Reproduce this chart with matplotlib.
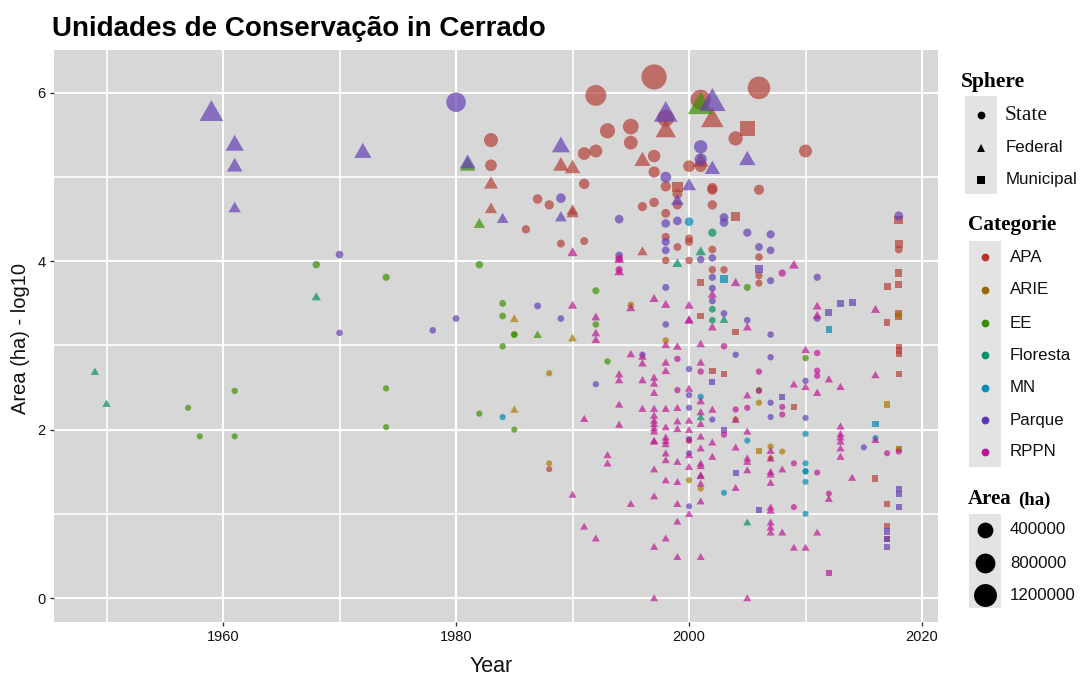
import matplotlib
matplotlib.use("Agg")
import matplotlib.pyplot as plt
from matplotlib.lines import Line2D
from matplotlib.patches import Rectangle
from matplotlib.path import Path
import numpy as np

# (year, log10 area) by category and sphere
APA_STATE = [(1992,5.97),(1997,6.19),(2001,5.92),(2006,6.06),(1993,5.55),(1995,5.60),(1995,5.41),(2004,5.46),
 (1991,5.28),(1992,5.31),(1997,5.25),(2000,5.13),(2001,5.13),(1997,5.06),(2010,5.31),(1991,4.92),(1998,4.89),
 (2002,4.87),(2002,4.85),(2006,4.85),(1999,4.80),(1986,4.38),(1987,4.74),(1988,4.67),(1996,4.65),(1997,4.70),
 (1998,4.57),(1999,4.67),(2002,4.67),(1989,4.21),(1991,4.24),(1998,4.29),(1998,4.01),(1999,4.17),(2000,4.01),
 (2000,4.27),(2000,4.23),(2002,4.14),(2002,3.90),(2003,3.90),(2006,4.05),(2006,3.83),(2006,3.74),(2018,4.14),
 (1983,5.44),(1983,5.14),(1998,5.70),(1988,1.53)]
APA_FED = [(1998,5.57),(2002,5.70),(1990,5.12),(1989,5.15),(1996,5.21),(1990,4.61),(1996,4.12),(2001,5.20),
 (1983,4.93),(1983,4.63),(1990,4.58)]
APA_MUN = [(2005,5.58),(1999,4.88),(2004,4.53),(2018,4.49),(2018,4.21),(2018,3.86),(2018,3.72),(2017,3.70),
 (2001,3.75),(2001,3.35),(2018,3.38),(2018,3.34),(2017,3.27),(2004,3.16),(2018,2.98),(2018,2.94),(2018,2.90),
 (2002,2.70),(2003,2.66),(2018,2.66),(2009,2.27),(2016,1.42),(2017,1.12),(2017,0.85),(2017,0.70)]
ARIE_STATE = [(1995,3.48),(1988,2.67),(2018,3.36),(1998,3.06),(2006,2.32),(2004,2.12),(2000,1.87),(2007,1.80),
 (2008,1.74),(1988,1.60),(2007,1.66),(2000,1.40),(2001,1.30),(2018,1.77)]
ARIE_FED = [(1985,3.32),(1990,3.09),(1985,2.24)]
ARIE_MUN = [(2006,1.75),(2017,2.30),(2018,1.77)]
EE_STATE = [(1968,3.96),(1974,3.81),(1982,3.96),(1961,2.46),(1957,2.26),(1958,1.92),(1961,1.92),(1974,2.49),
 (1974,2.03),(1982,2.19),(2005,3.69),(1992,3.65),(1984,3.50),(1984,3.35),(1992,3.25),(1985,3.13),(1984,2.99),
 (1985,3.13),(1993,2.81),(2010,2.85),(2006,2.47),(1985,2.00)]
EE_FED = [(1981,5.15),(1982,4.45),(2001,5.87),(1987,3.13)]
FLORESTA_STATE = [(2002,4.34),(2002,3.43),(2002,3.30)]
FLORESTA_FED = [(1968,3.58),(1949,2.69),(1950,2.31),(2001,4.12),(1999,3.98),(2003,3.31),(2001,2.15),(2005,0.90)]
MN_STATE = [(2000,4.47),(2001,2.39),(1984,2.15),(2010,1.95),(2016,1.90),(2005,1.87),(2010,1.60),(2010,1.51),
 (2010,1.50),(2010,1.38),(2003,1.25),(2010,1.00)]
MN_MUN = [(2003,3.79),(2012,3.19),(2016,2.07)]
PARQUE_STATE = [(1980,5.89),(1970,4.08),(1970,3.15),(1978,3.18),(1980,3.32),(2001,5.36),(2001,5.21),(1998,5.00),
 (1989,4.75),(1994,4.50),(1998,4.45),(1999,4.48),(2003,4.52),(2003,4.46),(2005,4.34),(2007,4.32),(2006,4.17),
 (2007,4.13),(1998,4.23),(1998,4.13),(2001,4.02),(2002,4.04),(1994,4.07),(2002,3.81),(2002,3.68),(2007,3.77),
 (1998,3.69),(2011,3.81),(2002,3.53),(1987,3.47),(1989,3.32),(2003,3.38),(2005,3.30),(1998,3.25),(2011,3.32),
 (2007,3.13),(1996,2.89),(2004,2.89),(2007,2.86),(2000,2.72),(1992,2.54),(2010,2.58),(2000,2.41),(2007,2.32),
 (2000,2.26),(2002,2.12),(2007,2.15),(2010,2.14),(2015,1.79),(2000,1.89),(2000,1.72),(2000,1.09),(2018,4.54)]
PARQUE_FED = [(1959,5.78),(1961,5.40),(1961,5.14),(1961,4.64),(1972,5.31),(1981,5.18),(1998,5.77),(2002,5.91),
 (1989,5.38),(2005,5.22),(2002,5.11),(2000,4.91),(1999,4.73),(1989,4.53),(1984,4.51)]
PARQUE_MUN = [(2006,3.91),(2012,3.39),(2013,3.50),(2014,3.51),(2002,2.57),(2008,2.39),(2003,2.00),(2004,1.49),
 (2006,1.05),(2018,1.30),(2018,1.24),(2018,1.08),(2017,0.79),(2017,0.70),(2017,0.61)]
RPPN_STATE = [(1994,3.90),(2008,3.86),(2003,2.99),(1999,2.84),(2011,2.91),(2001,2.69),(2006,2.69),(2011,2.70),
 (2011,2.64),(1999,2.47),(2006,2.46),(2008,2.27),(2008,2.18),(2004,2.24),(2005,2.26),(2003,1.94),(2000,1.87),
 (2018,1.74),(2017,1.72),(2009,1.60),(2011,1.49),(2012,1.24),(2009,1.08),(1994,4.03)]
RPPN_FED = [(1990,4.11),(1994,4.03),(1994,3.88),(2009,3.96),(2004,3.75),(1997,3.56),(1998,3.49),(1995,3.45),
 (1990,3.48),(2000,3.48),(1992,3.34),(2000,3.31),(2011,3.47),(2011,3.36),(2016,3.43),(2002,3.61),(2002,3.22),
 (2005,3.22),(2000,3.30),(1992,3.15),(1992,3.07),(1998,3.01),(1999,2.99),(2001,3.02),(2010,2.95),(1995,2.90),
 (1996,2.87),(1996,2.79),(1998,2.80),(2001,2.80),(1998,2.70),(1994,2.66),(1994,2.59),(1996,2.59),(1997,2.62),
 (1997,2.55),(2012,2.60),(2016,2.65),(2009,2.54),(2010,2.51),(2011,2.44),(2013,2.51),(1997,2.44),(2000,2.49),
 (2005,2.41),(2001,2.34),(1994,2.30),(1996,2.25),(1997,2.25),(1997,2.17),(1998,2.25),(1999,2.26),(2002,2.24),
 (2001,2.21),(2001,2.07),(2004,2.12),(1991,2.13),(1994,2.06),(1997,2.11),(1997,2.07),(1997,2.02),(1997,1.98),
 (1998,2.03),(1999,2.10),(1999,2.01),(2000,2.11),(2000,2.00),(2001,1.92),(2005,1.98),(2013,2.04),(2013,1.95),
 (2013,1.91),(2013,1.86),(2013,1.78),(2013,1.68),(2016,1.88),(1997,1.87),(1997,1.86),(1998,1.91),(1998,1.87),
 (1998,1.83),(2001,1.78),(2002,1.85),(2004,1.79),(2007,1.75),(1998,1.72),(1998,1.64),(1993,1.70),(1993,1.60),
 (2000,1.70),(2002,1.68),(1999,1.62),(2000,1.56),(2001,1.60),(2001,1.57),(2005,1.66),(2005,1.62),(2005,1.52),
 (2007,1.66),(2007,1.50),(2007,1.47),(2008,1.53),(1997,1.53),(2001,1.46),(2001,1.45),(1998,1.40),(1999,1.38),
 (2001,1.36),(2004,1.31),(2007,1.37),(2014,1.43),(2012,1.18),(1990,1.23),(1997,1.21),(1995,1.12),(1999,1.12),
 (2000,1.00),(2001,1.15),(2007,1.08),(2007,1.04),(1991,0.85),(1992,0.71),(1999,0.91),(2007,0.90),(2007,0.84),
 (2007,0.78),(2008,0.78),(2011,0.78),(1998,0.71),(1997,0.61),(1999,0.49),(2001,0.49),(2009,0.60),(2010,0.60),
 (1997,0.00),(2005,0.00)]
RPPN_MUN = [(2012,0.30)]

CATEGORIES = ["APA", "ARIE", "EE", "Floresta", "MN", "Parque", "RPPN"]
CAT_COLORS = ["#B54038", "#AD7A00", "#3E9200", "#009065", "#0089B4", "#6541B4", "#BE1A92"]
LEGEND_COLORS = ["#B5352E", "#946A10", "#3C8C0B", "#0E8F6B", "#0E8BB5", "#5B37B0", "#BA1594"]
SPHERES = ["State", "Federal", "Municipal"]
AREA_BREAKS = [400000, 800000, 1200000]
X_TICKS = [1960, 1980, 2000, 2020]
X_MINOR = [1950, 1970, 1990, 2010]
Y_TICKS = [0, 2, 4, 6]
Y_MINOR = [1, 3, 5]

GROUPS = [(0, APA_STATE, "o"), (0, APA_FED, "^"), (0, APA_MUN, "s"),
          (1, ARIE_STATE, "o"), (1, ARIE_FED, "^"), (1, ARIE_MUN, "s"),
          (2, EE_STATE, "o"), (2, EE_FED, "^"),
          (3, FLORESTA_STATE, "o"), (3, FLORESTA_FED, "^"),
          (4, MN_STATE, "o"), (4, MN_MUN, "s"),
          (5, PARQUE_STATE, "o"), (5, PARQUE_FED, "^"), (5, PARQUE_MUN, "s"),
          (6, RPPN_STATE, "o"), (6, RPPN_FED, "^"), (6, RPPN_MUN, "s")]

W, H, DPI = 1081, 675, 100
PANEL = "#D7D7D7"
KEY = "#E3E3E3"
R_MIN, R_MAX, V_MAX = 3.0, 12.7, 10 ** 6.2
TRIANGLE = Path([(-1, -0.80), (1, -0.80), (0, 0.95), (-1, -0.80)], closed=True)
TRI_FACTOR = 1.33

def diam_pt(value):
    """Area scale: marker diameter in points for an area in hectares."""
    radius_px = R_MIN + (R_MAX - R_MIN) * np.sqrt(np.asarray(value, float) / V_MAX)
    return 2 * radius_px * 72 / DPI

fig = plt.figure(figsize=(W / DPI, H / DPI), dpi=DPI, facecolor="white")
L, R, T, B = 54, 938, 50, 622
ax = fig.add_axes([L / W, 1 - B / H, (R - L) / W, (B - T) / H], facecolor=PANEL)
ax.set_xlim(1945.49, 2021.37)
ax.set_ylim(-0.285, 6.51)
for s in ax.spines.values():
    s.set_visible(False)

for v in X_TICKS + X_MINOR:
    ax.axvline(v, color="white", lw=1.5 if v in X_TICKS else 1.2, zorder=1)
for v in Y_TICKS + Y_MINOR:
    ax.axhline(v, color="white", lw=1.5 if v in Y_TICKS else 1.2, zorder=1)

for cat, pts, shape in GROUPS:
    arr = np.array(pts)
    d = diam_pt(10 ** arr[:, 1])
    if shape == "^":
        ax.scatter(arr[:, 0], arr[:, 1], s=(d * TRI_FACTOR) ** 2, marker=TRIANGLE,
                   color=CAT_COLORS[cat], alpha=0.7, linewidths=0, zorder=3)
    else:
        ax.scatter(arr[:, 0], arr[:, 1], s=d ** 2, marker=shape,
                   color=CAT_COLORS[cat], alpha=0.7, linewidths=0, zorder=3)

ax.set_xticks(X_TICKS)
ax.set_yticks(Y_TICKS)
ax.tick_params(axis="both", length=3, width=1, color="#333333", labelsize=10.5,
               labelcolor="#111111", pad=3)
for t in ax.get_xticklabels() + ax.get_yticklabels():
    t.set_family("Liberation Sans")

def ftext(x, y, s, **kw):
    fig.text(x / W, 1 - y / H, s, va="center", **kw)

ftext(52, 29, "Unidades de Conservação in Cerrado", family="Liberation Sans",
      weight="bold", fontsize=20, color="black")
ftext(491, 666, "Year", family="Liberation Sans", fontsize=15.5, ha="center", color="#111111")
ftext(21, 339, "Area (ha) - log10", family="Liberation Sans", fontsize=14.5, ha="center",
      rotation=90, color="#111111")

def key_box(x0, y0, x1, y1):
    fig.add_artist(Rectangle((x0 / W, 1 - y1 / H), (x1 - x0) / W, (y1 - y0) / H,
                             transform=fig.transFigure, facecolor=KEY, edgecolor="none"))

def key_mark(x, y, marker, size_pt, color):
    fig.add_artist(Line2D([x / W], [1 - y / H], transform=fig.transFigure, marker=marker,
                          markersize=size_pt, color=color, linestyle="none",
                          markeredgewidth=0))

SERIF = dict(family="Liberation Serif", weight="bold", color="black")
SANS = dict(family="Liberation Sans", fontsize=12.2, color="#111111")

# Sphere legend
ftext(961, 82, "Sphere", fontsize=15.5, **SERIF)
key_box(965, 96, 997, 194)
for y, name, mk, ms in zip([115, 148, 180], SPHERES, ["o", "^", "s"], [5.6, 6.0, 5.6]):
    key_mark(981, y, mk, ms, "black")
ftext(1005, 116, SPHERES[0], family="Liberation Serif", fontsize=15.5, color="#111111")
ftext(1006, 148, SPHERES[1], **SANS)
ftext(1006, 180, SPHERES[2], **SANS)

# Categorie legend
ftext(968, 225, "Categorie", fontsize=15.3, **SERIF)
key_box(969, 241, 1001, 467)
for y, name, col in zip([257, 290, 323, 355, 388, 420, 452], CATEGORIES, LEGEND_COLORS):
    key_mark(985, y, "o", 5.6, col)
    ftext(1010, y, name, **SANS)

# Area legend
ftext(968, 499, "Area", fontsize=15, **SERIF)
ftext(1018, 500, "(ha)", fontsize=13.5, **SERIF)
key_box(969, 514, 1001, 608)
for y, v in zip([530, 563, 595], AREA_BREAKS):
    key_mark(985, y, "o", float(diam_pt(v)), "black")
    ftext(1010, y, str(v), **SANS)

fig.savefig("out.png", dpi=DPI, facecolor="white")
